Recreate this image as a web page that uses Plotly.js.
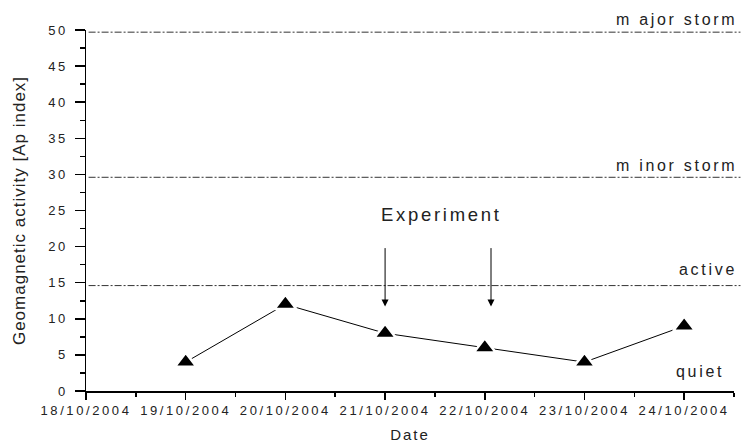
<!DOCTYPE html>
<html>
<head>
<meta charset="utf-8">
<script src="https://cdn.plot.ly/plotly-3.0.1.min.js"></script>
<style>
  html, body { margin: 0; padding: 0; background: #fff; }
  #chart { width: 741px; height: 448px; }
  .xtick text, .ytick text { letter-spacing: 2.6px; }
  .g-xtitle text { letter-spacing: 2px; }
  .g-ytitle text { letter-spacing: 1px; }
  .annotation-text { letter-spacing: 2.7px; }
</style>
</head>
<body>
<div id="chart"></div>
<script>
// ---- data ----
const dates = ['2004-10-19', '2004-10-20', '2004-10-21', '2004-10-22', '2004-10-23', '2004-10-24'];
const apIndex = [4, 12, 8, 6, 4, 9];

const levelValues = [49.7, 29.6, 14.6];
const levelLabels = ['m ajor storm', 'm inor storm', 'active'];
const levelLabelY = [51.5, 31.3, 16.8];
const quietLabel = 'quiet';
const quietLabelY = 2.7;

const experimentDates = ['2004-10-21 00:00', '2004-10-22 01:30'];
const experimentArrowTop = 20;
const experimentArrowTip = 11.7;
const experimentLabel = 'Experiment';
const experimentLabelX = '2004-10-21 13:30';
const experimentLabelY = 24.4;

const xRange = ['2004-10-18', '2004-10-24 12:00'];
const yRange = [0, 50];

// ---- chart ----
const FONT = 'Liberation Sans, Arial, sans-serif';
const TXT = '#222';
const toPaperY = v => (v - yRange[0]) / (yRange[1] - yRange[0]);

const shapes = levelValues.map(v => ({
  type: 'line', xref: 'paper', yref: 'paper',
  x0: 0.004, x1: 1.01, y0: toPaperY(v), y1: toPaperY(v),
  line: { color: '#333', width: 1, dash: '7px,2px,2px,2px' }
}));

const annotations = [];
levelLabels.forEach((t, i) => {
  annotations.push({
    text: t, xref: 'paper', yref: 'paper', x: 1.008, y: toPaperY(levelLabelY[i]),
    xanchor: 'right', yanchor: 'middle', showarrow: false,
    font: { family: FONT, size: 16, color: TXT }
  });
});
annotations.push({
  text: quietLabel, xref: 'paper', yref: 'paper', x: 0.987, y: toPaperY(quietLabelY),
  xanchor: 'right', yanchor: 'middle', showarrow: false,
  font: { family: FONT, size: 16, color: TXT }
});
annotations.push({
  text: experimentLabel, xref: 'x', yref: 'y', x: experimentLabelX, y: experimentLabelY,
  xanchor: 'center', yanchor: 'middle', showarrow: false,
  font: { family: FONT, size: 18.5, color: TXT }
});
experimentDates.forEach(d => {
  annotations.push({
    text: '', x: d, y: experimentArrowTip, xref: 'x', yref: 'y',
    ax: d, ay: experimentArrowTop, axref: 'x', ayref: 'y',
    showarrow: true, arrowhead: 2, arrowsize: 1.4, arrowwidth: 1, arrowcolor: '#000',
    standoff: 0
  });
});

const trace = {
  x: dates, y: apIndex, type: 'scatter', mode: 'lines+markers',
  line: { color: '#000', width: 1 },
  marker: { symbol: 'triangle-up', size: 19, color: '#000', line: { color: '#fff', width: 2.5 } },
  cliponaxis: false, hoverinfo: 'skip'
};

const layout = {
  width: 741, height: 448,
  margin: { l: 85.5, r: 7, t: 30, b: 57 },
  paper_bgcolor: '#fff', plot_bgcolor: '#fff',
  showlegend: false,
  font: { family: FONT, color: TXT },
  xaxis: {
    type: 'date', range: xRange, fixedrange: true,
    showgrid: false, zeroline: false,
    showline: true, linecolor: '#000', linewidth: 1.5,
    ticks: 'outside', ticklen: 7, tickwidth: 1.5, tickcolor: '#000',
    dtick: 86400000, tick0: '2004-10-18', tickformat: '%d/%m/%Y',
    tickfont: { family: FONT, size: 13, color: TXT },
    minor: { dtick: 43200000, tick0: '2004-10-18', ticks: 'outside', ticklen: 4, tickwidth: 1.5, tickcolor: '#000', showgrid: false },
    title: { text: 'Date', font: { family: FONT, size: 15, color: TXT }, standoff: 12 },
    automargin: true
  },
  yaxis: {
    range: yRange, fixedrange: true,
    showgrid: false, zeroline: false,
    showline: true, linecolor: '#000', linewidth: 1.5,
    ticks: 'outside', ticklen: 10, tickwidth: 1.5, tickcolor: '#000',
    dtick: 5, tick0: 0,
    tickfont: { family: FONT, size: 13, color: TXT },
    ticklabelstandoff: 4,
    minor: { dtick: 2.5, ticks: 'outside', ticklen: 5, tickwidth: 1.5, tickcolor: '#000', showgrid: false },
    title: { text: 'Geomagnetic activity [Ap index]', font: { family: FONT, size: 17, color: TXT }, standoff: 18 },
    automargin: true
  },
  shapes: shapes,
  annotations: annotations
};

Plotly.newPlot('chart', [trace], layout, { staticPlot: true, displayModeBar: false });
</script>
</body>
</html>
